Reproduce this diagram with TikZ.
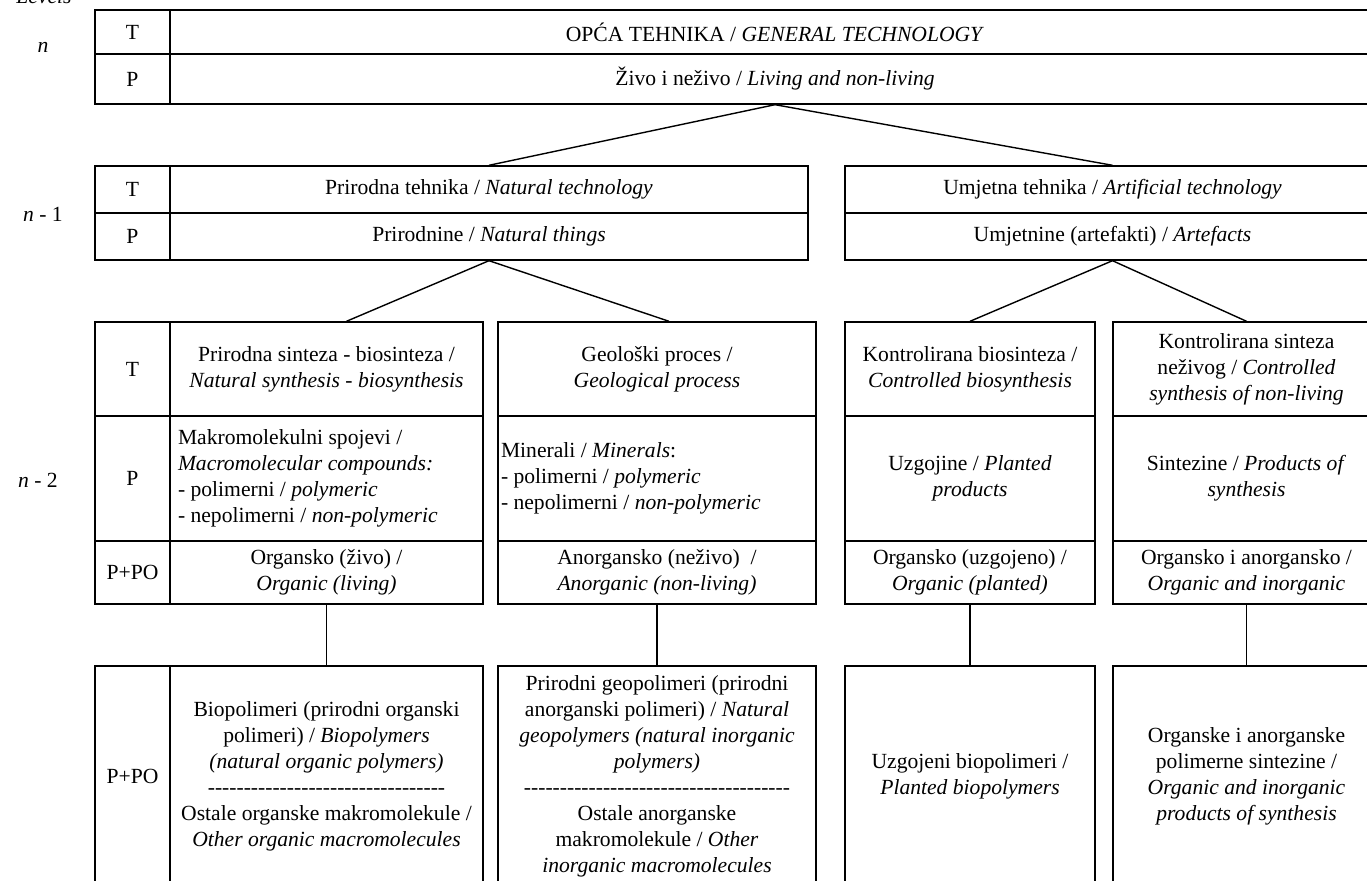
\documentclass[tikz,border=0pt]{standalone}
\usepackage{fontspec}
\setmainfont{Liberation Serif}
\usetikzlibrary{positioning, calc}

% row of plain hyphens (no -- ligatures)
\newcommand{\hyphens}[1]{\foreach \k in {1,...,#1}{-\kern0pt}}

\begin{document}
\begin{tikzpicture}[
  x=0.5pt, y=-0.5pt,
  txt/.style={font=\fontsize{10.8}{13}\selectfont},
  box/.style 2 args={draw, line width=0.7pt, rectangle, inner sep=0pt, align=center, txt, minimum width=#1, minimum height=#2},
  link/.style={line width=0.7pt}
]
  \useasboundingbox (0,0) rectangle (1367,881);
  \clip (0,0) rectangle (1367,881);

  % Level labels
  \node[txt, anchor=base] (lvl) at (44,4) {\textit{Levels}};
  \node[txt] (lvn) at (43,47) {\textit{n}};
  \node[txt] (lvn1) at (43,214) {\textit{n} - 1};
  \node[txt] (lvn2) at (38,480) {\textit{n} - 2};

  % Level n
  \node[box={37.5pt}{22pt}] (nT) at (132.5,32) {T};
  \node[box={37.5pt}{25pt}] (nP) at (132.5,79) {P};
  \node[box={605pt}{22pt}] (nTtxt) at (775,32) {OPĆA TEHNIKA / \textit{GENERAL TECHNOLOGY}};
  \node[box={605pt}{25pt}] (nPtxt) at (775,79) {Živo i neživo / \textit{Living and non-living}};

  % Level n-1
  \node[box={37.5pt}{23.5pt}] (aT) at (132.5,189.5) {T};
  \node[box={37.5pt}{23.5pt}] (aP) at (132.5,236.5) {P};
  \node[box={319pt}{23.5pt}] (aTtxt) at (489,189.5) {Prirodna tehnika / \textit{Natural technology}};
  \node[box={319pt}{23.5pt}] (aPtxt) at (489,236.5) {Prirodnine / \textit{Natural things}};
  \node[box={267.5pt}{23.5pt}] (bT) at (1112.5,189.5) {Umjetna tehnika / \textit{Artificial technology}};
  \node[box={267.5pt}{23.5pt}] (bP) at (1112.5,236.5) {Umjetnine (artefakti) / \textit{Artefacts}};

  % Level n-2
  \node[box={37.5pt}{47pt}] (cT) at (132.5,369) {T};
  \node[box={37.5pt}{62.5pt}] (cP) at (132.5,478.5) {P};
  \node[box={37.5pt}{31.5pt}] (cO) at (132.5,572.5) {P+PO};

  \node[box={156.5pt}{47pt}] (c1T) at (326.5,369) {Prirodna sinteza - biosinteza /\\ \textit{Natural synthesis - biosynthesis}};
  \node[box={156.5pt}{62.5pt}, align=flush left, inner xsep=4pt, text width=148.5pt] (c1P) at (326.5,478.5) {Makromolekulni spojevi /\\ \textit{Macromolecular compounds:}\\ - polimerni / \textit{polymeric}\\ - nepolimerni / \textit{non-polymeric}};
  \node[box={156.5pt}{31.5pt}] (c1O) at (326.5,572.5) {Organsko (živo) /\\ \textit{Organic (living)}};

  \node[box={159pt}{47pt}] (c2T) at (657,369) {Geološki proces /\\ \textit{Geological process}};
  \node[box={159pt}{62.5pt}, align=flush left, inner xsep=1.5pt, text width=156pt] (c2P) at (657,478.5) {Minerali / \textit{Minerals}:\\ - polimerni / \textit{polymeric}\\ - nepolimerni / \textit{non-polymeric}};
  \node[box={159pt}{31.5pt}] (c2O) at (657,572.5) {Anorgansko (neživo) \ /\\ \textit{Anorganic (non-living)}};

  \node[box={125pt}{47pt}] (c3T) at (970,369) {Kontrolirana biosinteza /\\ \textit{Controlled biosynthesis}};
  \node[box={125pt}{62.5pt}] (c3P) at (970,478.5) {Uzgojine / \textit{Planted}\\ \textit{products}};
  \node[box={125pt}{31.5pt}] (c3O) at (970,572.5) {Organsko (uzgojeno) /\\ \textit{Organic (planted)}};

  \node[box={133.5pt}{47pt}] (c4T) at (1246.5,369) {Kontrolirana sinteza\\ neživog / \textit{Controlled}\\ \textit{synthesis of non-living}};
  \node[box={133.5pt}{62.5pt}] (c4P) at (1246.5,478.5) {Sintezine / \textit{Products of}\\ \textit{synthesis}};
  \node[box={133.5pt}{31.5pt}] (c4O) at (1246.5,572.5) {Organsko i anorgansko /\\ \textit{Organic and inorganic}};

  % Level n-3
  \node[box={37.5pt}{110pt}] (dO) at (132.5,776) {P+PO};
  \node[box={156.5pt}{110pt}] (d1) at (326.5,776) {Biopolimeri (prirodni organski\\ polimeri) / \textit{Biopolymers}\\ \textit{(natural organic polymers)}\\ \hyphens{33}\\ Ostale organske makromolekule /\\ \textit{Other organic macromolecules}};
  \node[box={159pt}{110pt}] (d2) at (657,776) {Prirodni geopolimeri (prirodni\\ anorganski polimeri) / \textit{Natural}\\ \textit{geopolymers (natural inorganic}\\ \textit{polymers)}\\ \hyphens{37}\\ Ostale anorganske\\ makromolekule / \textit{Other}\\ \textit{inorganic macromolecules}};
  \node[box={125pt}{110pt}] (d3) at (970,776) {Uzgojeni biopolimeri /\\ \textit{Planted biopolymers}};
  \node[box={133.5pt}{110pt}] (d4) at (1246.5,776) {Organske i anorganske\\ polimerne sintezine /\\ \textit{Organic and inorganic}\\ \textit{products of synthesis}};

  % Connectors
  \draw[link] (nPtxt.south) -- (aTtxt.north);
  \draw[link] (nPtxt.south) -- (bT.north);
  \draw[link] (aPtxt.south) -- ($(c1T.north)+(20,0)$);
  \draw[link] (aPtxt.south) -- ($(c2T.north)+(12,0)$);
  \draw[link] (bP.south) -- (c3T.north);
  \draw[link] (bP.south) -- (c4T.north);
  \draw[link] (c1O.south) -- (d1.north);
  \draw[link] (c2O.south) -- (d2.north);
  \draw[link] (c3O.south) -- (d3.north);
  \draw[link] (c4O.south) -- (d4.north);

\end{tikzpicture}
\end{document}
